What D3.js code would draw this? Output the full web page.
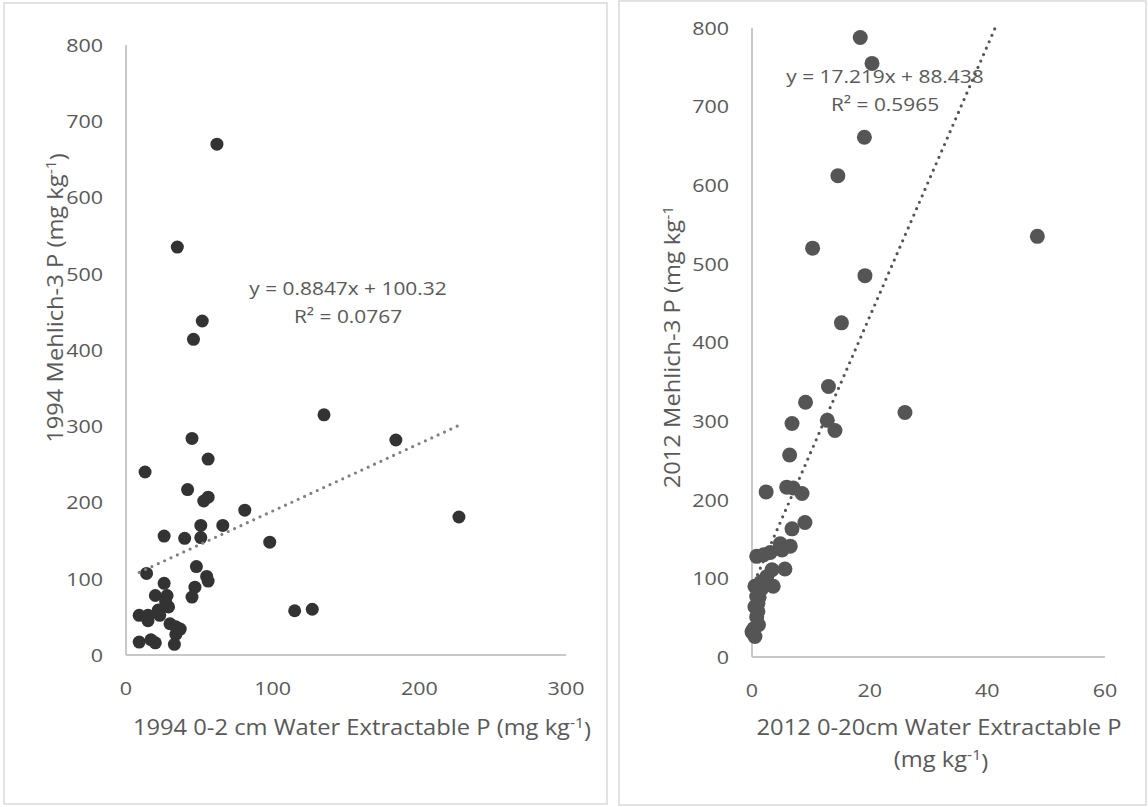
<!DOCTYPE html>
<html><head><meta charset="utf-8">
<script src="https://cdn.jsdelivr.net/npm/d3@7"></script>
<style>
html,body{margin:0;padding:0;background:#fff;}
text{font-family:"Open Sans","Noto Sans",sans-serif;fill:#595959;}
</style></head>
<body>
<svg id="c" width="1148" height="807"></svg>
<script>
// ---- 1994 panel data ----
const x1994 = [62,35,52,46,135,45,56,13,42,56,53,81,51,66,26,40,51,98,48,14,55,56,47,45,26,27,20,28,29,22,9,15,15,23,30,34,37,9,17,20,33,34,115,127,184,227];
const y1994 = [670,535,438,414,315,284,257,240,217,207,202,190,170,170,156,153,154,148,116,107,103,97,89,76,94,70,78,78,63,59,52,52,45,52,41,37,34,17,20,16,14,27,58,60,282,181];
const trend1994 = {slope:0.8847, intercept:100.32};
const eq1994 = ["y = 0.8847x + 100.32","R² = 0.0767"];
const xTicks1994 = [0,100,200,300];
const yTicks = [0,100,200,300,400,500,600,700,800];

// ---- 2012 panel data ----
const x2012 = [18.4,20.4,19.1,14.6,10.3,48.5,19.2,15.2,13,9.1,26,6.8,12.8,14.1,6.4,2.4,5.9,7.0,8.5,9.0,6.8,4.8,6.5,0.8,3.1,5.1,2.0,5.6,3.4,2.5,3.6,0.5,1.65,1.2,0.8,1.0,0.5,0.8,1.1,0,0.5,0.3,1.5,1.0];
const y2012 = [788,755,661,612,520,535,485,425,344,324,311,297,301,288,257,210,216,215,208,171,163,144,141,128,133,136,130,112,111,102,90,90,87,76,77,68,64,51,41,32,26,36,95,58];
const trend2012 = {slope:17.219, intercept:88.438};
const eq2012 = ["y = 17.219x + 88.438","R² = 0.5965"];
const xTicks2012 = [0,20,40,60];

const S = 1.13; // horizontal stretch of the reference's text rendering
const svg = d3.select("#c");

function label(g, x, y, size, anchor, parts, rot){
  const gg = g.append("g").attr("transform",`translate(${x},${y}) rotate(${rot||0}) scale(${S},1)`);
  const t = gg.append("text").attr("text-anchor",anchor).attr("font-size",size).attr("dy","0.36em");
  parts.forEach(p=>{
    if (typeof p === "string") t.append("tspan").text(p);
    else t.append("tspan").attr("dy",p.dy).attr("font-size",p.size||null).text(p.t);
  });
  return gg;
}
function withSup(main, after){
  const a = [main, {t:"-1", dy:"-0.45em", size:14}];
  if (after!==undefined) a.push({t:after, dy:"0.45em"});
  return a;
}

function panel(cfg){
  const g = svg.append("g");
  g.append("rect").attr("x",cfg.frame[0]).attr("y",cfg.frame[1]).attr("width",cfg.frame[2]).attr("height",cfg.frame[3])
    .attr("fill","#fff").attr("stroke","#d9d9d9").attr("stroke-width",1.5);
  const x = d3.scaleLinear().domain(cfg.xdom).range([cfg.left,cfg.right]);
  const y = d3.scaleLinear().domain([0,800]).range([cfg.bottom,cfg.top]);
  g.append("line").attr("x1",cfg.left).attr("x2",cfg.left).attr("y1",cfg.top).attr("y2",cfg.bottom).attr("stroke","#c8c8c8").attr("stroke-width",2);
  g.append("line").attr("x1",cfg.left).attr("x2",cfg.right).attr("y1",cfg.bottom).attr("y2",cfg.bottom).attr("stroke","#c8c8c8").attr("stroke-width",2);
  yTicks.forEach(d=>label(g, cfg.left-23, y(d), 19, "end", [String(d)]));
  cfg.xticks.forEach(d=>label(g, x(d), cfg.bottom+33, 19, "middle", [String(d)]));
  const xs = d3.extent(cfg.xs);
  let xEnd = xs[1];
  const yAtEnd = cfg.trend.slope*xEnd+cfg.trend.intercept;
  if (yAtEnd>800) xEnd = (800-cfg.trend.intercept)/cfg.trend.slope;
  const tl = [xs[0],xEnd].map(v=>[x(v),y(cfg.trend.slope*v+cfg.trend.intercept)]);
  const pts = cfg.xs.map((v,i)=>[v,cfg.ys[i]]);
  g.selectAll(".pt").data(pts).join("circle").attr("cx",d=>x(d[0])).attr("cy",d=>y(d[1])).attr("r",cfg.r).attr("fill",cfg.color);
  g.append("path").attr("d",d3.line()(tl)).attr("stroke",cfg.tcolor).attr("stroke-width",3.2)
    .attr("stroke-dasharray","0 7").attr("stroke-linecap","round").attr("fill","none");
  cfg.eq.forEach((t,i)=>label(g, cfg.eqPos[0], cfg.eqPos[1]+i*28, 18.5, "middle", [t]));
  return {g,x,y};
}

const p1 = panel({frame:[4,3,603,801], left:126, right:566, top:45, bottom:655, xdom:[0,300], xticks:xTicks1994,
  xs:x1994, ys:y1994, trend:trend1994, eq:eq1994, eqPos:[348,288], r:6.5, color:"#333333", tcolor:"#808080"});
const p2 = panel({frame:[619,1,527,804], left:752, right:1105, top:28, bottom:657, xdom:[0,60], xticks:xTicks2012,
  xs:x2012, ys:y2012, trend:trend2012, eq:eq2012, eqPos:[885,76], r:7.5, color:"#555555", tcolor:"#555555"});

label(p1.g, 362, 727, 21, "middle", withSup("1994 0-2 cm Water Extractable P (mg kg", ")"));
label(p1.g, 55, 298, 21, "middle", withSup("1994 Mehlich-3 P (mg kg", ")"), -90);
label(p2.g, 939, 727, 21, "middle", ["2012 0-20cm Water Extractable P"]);
label(p2.g, 941, 759, 21, "middle", withSup("(mg kg", ")"));
label(p2.g, 672, 347, 21, "middle", withSup("2012 Mehlich-3 P (mg kg"), -90);
</script>
</body></html>
